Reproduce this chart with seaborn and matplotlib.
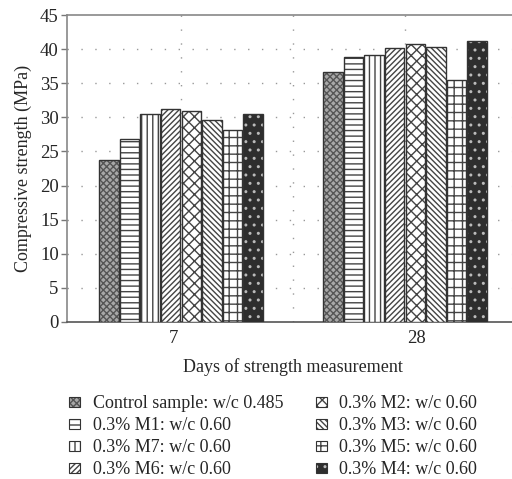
import matplotlib
matplotlib.use("Agg")
import matplotlib.pyplot as plt
import seaborn as sns
import pandas as pd
import numpy as np

days = ["7", "28"]
mixes = ["Control sample: w/c 0.485", "0.3% M1: w/c 0.60", "0.3% M7: w/c 0.60",
         "0.3% M6: w/c 0.60", "0.3% M2: w/c 0.60", "0.3% M3: w/c 0.60",
         "0.3% M5: w/c 0.60", "0.3% M4: w/c 0.60"]
strength_7 = [23.8, 26.8, 30.5, 31.2, 30.9, 29.6, 28.2, 30.5]
strength_28 = [36.6, 38.9, 39.1, 40.1, 40.8, 40.3, 35.5, 41.2]
yticks = [0, 5, 10, 15, 20, 25, 30, 35, 40, 45]

rows = []
for m, a, b in zip(mixes, strength_7, strength_28):
    rows.append({"day": days[0], "mix": m, "val": a})
    rows.append({"day": days[1], "mix": m, "val": b})
df = pd.DataFrame(rows)

sns.set_theme(style="white")
plt.rcParams["font.family"] = ["Liberation Serif", "DejaVu Serif"]
plt.rcParams["hatch.linewidth"] = 1.0

fig = plt.figure(figsize=(5.12, 4.79), dpi=100)
ax = fig.add_axes([67/512, 1-322/479, (519-67)/512, (322-15)/479])

face = ["#a8a8a8", "white", "white", "white", "white", "white", "white", "#2e2e2e"]
hatches = ["xxxxx", "---", "|||", "//////", "xxx", "\\\\\\\\\\\\", "++", ".."]
hcol = ["#555555", "#444444", "#444444", "#444444", "#444444", "#444444", "#444444", "#bbbbbb"]

sns.barplot(data=df, x="day", y="val", hue="mix", hue_order=mixes, order=days,
            width=0.735, gap=0.06, color="white", edgecolor="#333333", linewidth=1.0,
            ax=ax, legend=True, zorder=3)

def style(p, i):
    p.set_facecolor(face[i])
    p.set_edgecolor("#333333")
    p.set_hatch(hatches[i])
    if hasattr(p, "set_hatchcolor"):
        p.set_hatchcolor(hcol[i])
    else:
        p._hatch_color = matplotlib.colors.to_rgba(hcol[i])
    p.stale = True

for i, cont in enumerate(ax.containers):
    for p in cont:
        style(p, i)

handles, labels = ax.get_legend_handles_labels()
ax.get_legend().remove()
for i, h in enumerate(handles):
    style(h, i)
    h.set_linewidth(0.8)

ax.set_xlim(-0.509, 1.509)
ax.set_ylim(0, 45)
ax.set_xticks([-0.035, 1.053])
ax.set_xticklabels(days)
ax.set_yticks(yticks)
ax.set_yticklabels([str(t) for t in yticks], fontsize=13.5)
ax.tick_params(axis="y", direction="out", length=4, width=1, color="#777777", pad=2, left=True)
ax.tick_params(axis="x", length=0, pad=6, labelsize=13.5)
ax.set_xlabel("Days of strength measurement", fontsize=13, labelpad=8)
ax.set_ylabel("Compressive strength (MPa)", fontsize=13, labelpad=6)

for y in yticks[1:-1]:
    ax.axhline(y, color="#999999", lw=1.0, ls=(0, (1, 9)), zorder=1)
for x in [0, 0.5, 1.0, 1.5]:
    ax.axvline(x, color="#999999", lw=1.0, ls=(0, (1, 9)), zorder=1)

for s in ["top", "left", "bottom"]:
    ax.spines[s].set_visible(True)
    ax.spines[s].set_color("#888888")
    ax.spines[s].set_linewidth(1.2)
ax.spines["bottom"].set_color("#555555")
ax.spines["right"].set_visible(False)

fig.legend(handles, labels, ncol=2, loc="upper left", bbox_to_anchor=(53/512, 1-379/479),
           frameon=False, fontsize=13, handlelength=0.6, handleheight=0.45,
           handletextpad=0.7, labelspacing=0.28, columnspacing=1.8)

fig.savefig("out.png", dpi=100)
